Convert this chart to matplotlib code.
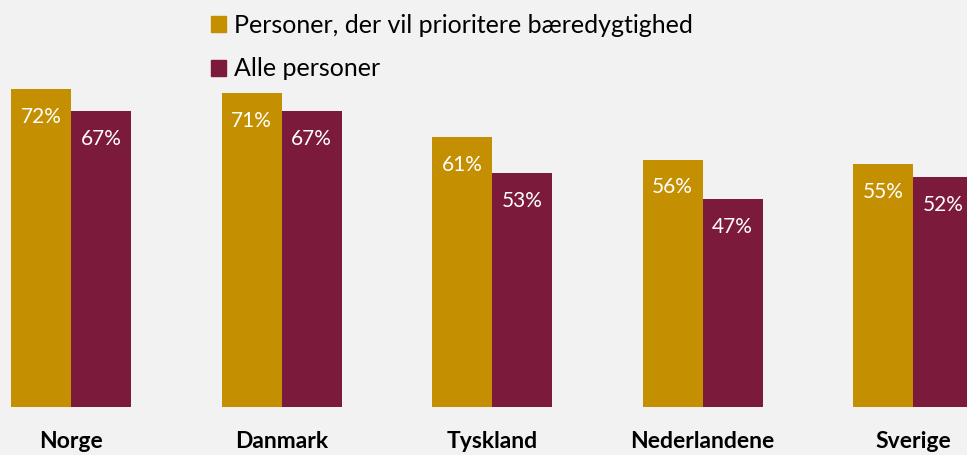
import matplotlib
matplotlib.use("Agg")
import matplotlib.pyplot as plt
from matplotlib.patches import Patch

countries = ["Norge", "Danmark", "Tyskland", "Nederlandene", "Sverige"]
prioritize = [72, 71, 61, 56, 55]
everyone = [67, 67, 53, 47, 52]
series_names = ["Personer, der vil prioritere bæredygtighed", "Alle personer"]

GOLD = "#C48F00"
MAROON = "#7B1A3A"
BG = "#F2F2F2"

plt.rcParams["font.family"] = ["Lato", "DejaVu Sans"]

W, H = 967, 455
fig = plt.figure(figsize=(W / 100, H / 100), dpi=100, facecolor=BG)

step = 210.5
bottom_px = 406.5
px_per_pct = 4.41
ax = fig.add_axes([0, (H - bottom_px) / H, 1, bottom_px / H])
ax.set_facecolor(BG)

x = list(range(len(countries)))
width = 60 / step
b1 = ax.bar([i - width / 2 for i in x], prioritize, width, color=GOLD)
b2 = ax.bar([i + width / 2 for i in x], everyone, width, color=MAROON)

for bars, vals in ((b1, prioritize), (b2, everyone)):
    for rect, v in zip(bars, vals):
        ax.annotate(f"{v}%", (rect.get_x() + rect.get_width() / 2, v),
                    xytext=(0, -20), textcoords="offset points",
                    ha="center", va="center", color="white", fontsize=15)

ax.set_xlim(-71 / step, (W - 71) / step)
ax.set_ylim(0, bottom_px / px_per_pct)
ax.set_xticks(x)
ax.set_xticklabels(countries, fontsize=16.5, fontweight="bold")
ax.tick_params(axis="x", length=0, pad=17.5)
ax.set_yticks([])
for s in ax.spines.values():
    s.set_visible(False)

handles = [Patch(color=GOLD), Patch(color=MAROON)]
fig.legend(handles, series_names, loc="upper left",
           bbox_to_anchor=(211 / W, 1 - 14 / H), frameon=False,
           fontsize=18, handlelength=0.6, handleheight=0.6,
           handletextpad=0.3, labelspacing=0.82, borderpad=0,
           borderaxespad=0)

fig.savefig("out.png", dpi=100, facecolor=BG)
